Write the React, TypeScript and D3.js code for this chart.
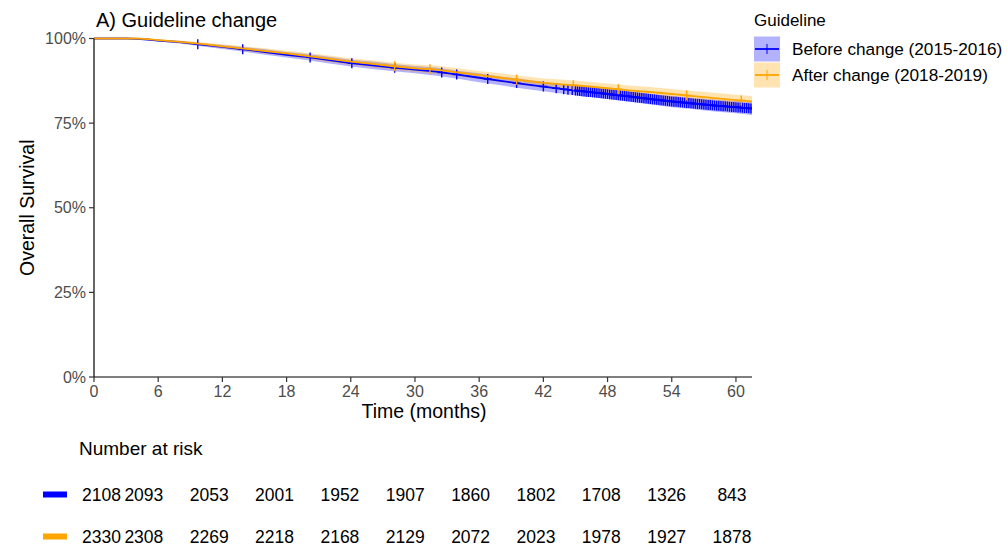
import React from "react";
import * as d3 from "d3";

// KM estimates (months -> survival)
const times = [0, 3, 4, 5, 6, 8, 10, 12, 14, 16, 18, 20, 22, 24, 26, 28, 30, 32, 34, 36, 38, 40, 42, 44, 46, 48, 50, 52, 54, 56, 58, 60, 61.5];

const beforeSurv = [1, 1, 0.999, 0.997, 0.994, 0.989, 0.982, 0.975, 0.968, 0.96, 0.952, 0.945, 0.936, 0.927, 0.921, 0.914, 0.908, 0.902, 0.893, 0.884, 0.875, 0.866, 0.858, 0.85, 0.843, 0.836, 0.829, 0.821, 0.814, 0.808, 0.802, 0.797, 0.793];
const beforeLower = [1, 1, 0.998, 0.995, 0.991, 0.985, 0.977, 0.969, 0.961, 0.952, 0.944, 0.936, 0.926, 0.917, 0.91, 0.903, 0.897, 0.89, 0.881, 0.871, 0.862, 0.852, 0.844, 0.836, 0.828, 0.821, 0.813, 0.805, 0.797, 0.791, 0.784, 0.779, 0.774];
const beforeUpper = [1, 1, 1, 0.999, 0.997, 0.993, 0.987, 0.981, 0.975, 0.968, 0.96, 0.954, 0.946, 0.937, 0.932, 0.925, 0.919, 0.914, 0.905, 0.897, 0.888, 0.88, 0.872, 0.864, 0.858, 0.851, 0.845, 0.837, 0.831, 0.825, 0.82, 0.815, 0.812];

const afterSurv = [1, 1, 1, 0.998, 0.995, 0.99, 0.984, 0.977, 0.97, 0.963, 0.956, 0.948, 0.94, 0.932, 0.925, 0.918, 0.912, 0.908, 0.9, 0.892, 0.884, 0.876, 0.869, 0.864, 0.859, 0.853, 0.847, 0.842, 0.836, 0.83, 0.824, 0.818, 0.814];
const afterLower = [1, 1, 0.999, 0.996, 0.992, 0.986, 0.979, 0.971, 0.963, 0.955, 0.948, 0.939, 0.93, 0.922, 0.914, 0.907, 0.901, 0.896, 0.888, 0.88, 0.871, 0.863, 0.856, 0.85, 0.845, 0.839, 0.833, 0.827, 0.821, 0.815, 0.808, 0.802, 0.798];
const afterUpper = [1, 1, 1, 1, 0.998, 0.994, 0.989, 0.983, 0.977, 0.971, 0.964, 0.957, 0.95, 0.942, 0.936, 0.929, 0.923, 0.92, 0.912, 0.904, 0.897, 0.889, 0.882, 0.878, 0.873, 0.867, 0.861, 0.857, 0.851, 0.845, 0.84, 0.834, 0.83];

// censoring times
const beforeCensor = [9.7, 13.9, 20.2, 24.1, 28.1, 32.5, 33.9, 36.8, 39.5, 42.0, 43.2, 43.9, 44.3, 44.7,
  45.0, 45.2, 45.4, 45.6, 45.8, 46.0, 46.2, 46.4, 46.6, 46.8, 47.0, 47.2, 47.4, 47.6, 47.8, 48.0, 48.2, 48.4, 48.6, 48.8,
  49.0, 49.2, 49.4, 49.6, 49.8, 50.0, 50.2, 50.4, 50.6, 50.8, 51.0, 51.2, 51.4, 51.6, 51.8, 52.0, 52.2, 52.4, 52.6, 52.8,
  53.0, 53.2, 53.4, 53.6, 53.8, 54.0, 54.2, 54.4, 54.6, 54.8, 55.0, 55.2, 55.4, 55.6, 55.8, 56.0, 56.2, 56.4, 56.6, 56.8,
  57.0, 57.2, 57.4, 57.6, 57.8, 58.0, 58.2, 58.4, 58.6, 58.8, 59.0, 59.2, 59.4, 59.6, 59.8, 60.0, 60.2, 60.4, 60.6, 60.8,
  61.0, 61.2, 61.4];
const afterCensor = [28.1, 31.4, 39.5, 44.8, 49.0, 55.4, 60.5];

const xTicks = [0, 6, 12, 18, 24, 30, 36, 42, 48, 54, 60];
const yTicks = [0, 0.25, 0.5, 0.75, 1];
const beforeRisk = [2108, 2093, 2053, 2001, 1952, 1907, 1860, 1802, 1708, 1326, 843];
const afterRisk = [2330, 2308, 2269, 2218, 2168, 2129, 2072, 2023, 1978, 1927, 1878];

const groups = [
  { name: "Before change (2015-2016)", color: "#0000FF", surv: beforeSurv, lo: beforeLower, hi: beforeUpper, censor: beforeCensor, risk: beforeRisk },
  { name: "After change (2018-2019)", color: "#FFA500", surv: afterSurv, lo: afterLower, hi: afterUpper, censor: afterCensor, risk: afterRisk },
];

const FONT = "Liberation Sans, Arial, sans-serif";

export default function App() {
  const left = 94, right = 752, top = 38.5, bottom = 377;
  const x = d3.scaleLinear().domain([0, 61.5]).range([left, right]);
  const y = d3.scaleLinear().domain([0, 1]).range([bottom, top]);
  const riskX = d3.scaleLinear().domain([0, 60]).range([78.5, 732]);

  return (
    <svg width={1007} height={546} style={{ position: "absolute", left: 0, top: 0, background: "#fff" }} fontFamily={FONT}>
      <defs>
        <clipPath id="plot">
          <rect x={left} y={0} width={right - left} height={bottom} />
        </clipPath>
      </defs>

      <text x={96} y={27} fontSize={20} fill="#000">A) Guideline change</text>

      <g clipPath="url(#plot)">
        {groups.map((g) => {
          const area = d3.area<number>()
            .x((t) => x(t))
            .y0((_, i) => y(g.lo[i]))
            .y1((_, i) => y(g.hi[i]));
          return <path key={g.name + "b"} d={area(times) || ""} fill={g.color} fillOpacity={0.3} />;
        })}
        {groups.map((g) => {
          const line = d3.line<number>().x((t) => x(t)).y((_, i) => y(g.surv[i]));
          const at = d3.scaleLinear().domain(times).range(g.surv);
          return (
            <g key={g.name + "l"}>
              <path d={line(times) || ""} fill="none" stroke={g.color} strokeWidth={1.8} />
              {g.censor.map((t, i) => {
                const cx = x(t), cy = y(at(t));
                return (
                  <path key={i} d={`M${cx},${cy - 5}V${cy + 5}M${cx - 4},${cy}H${cx + 4}`}
                    stroke={g.color} strokeWidth={1.4} fill="none" />
                );
              })}
            </g>
          );
        })}
      </g>

      {/* axes */}
      <line x1={left} x2={left} y1={top} y2={bottom} stroke="#000" strokeWidth={1.2} />
      <line x1={left} x2={right} y1={bottom} y2={bottom} stroke="#000" strokeWidth={1.2} />
      {yTicks.map((v) => (
        <g key={v}>
          <line x1={left - 5} x2={left} y1={y(v)} y2={y(v)} stroke="#333" strokeWidth={1.2} />
          <text x={left - 8} y={y(v)} dy="0.35em" textAnchor="end" fontSize={16} fill="#4d4d4d">{d3.format(".0%")(v)}</text>
        </g>
      ))}
      {xTicks.map((v) => (
        <g key={v}>
          <line x1={x(v)} x2={x(v)} y1={bottom} y2={bottom + 5} stroke="#333" strokeWidth={1.2} />
          <text x={x(v)} y={397} textAnchor="middle" fontSize={16} fill="#4d4d4d">{v}</text>
        </g>
      ))}
      <text x={424} y={418} textAnchor="middle" fontSize={19.5} fill="#000">Time (months)</text>
      <text transform={`translate(34,${(top + bottom) / 2}) rotate(-90)`} textAnchor="middle" fontSize={19.5} fill="#000">Overall Survival</text>

      {/* legend */}
      <text x={754} y={26} fontSize={17} fill="#000">Guideline</text>
      {groups.map((g, i) => {
        const ky = 36.5 + i * 26;
        return (
          <g key={g.name}>
            <rect x={754} y={ky} width={26} height={25} fill={g.color} fillOpacity={0.3} />
            <line x1={755} x2={779} y1={ky + 12.5} y2={ky + 12.5} stroke={g.color} strokeWidth={1.8} />
            <line x1={767} x2={767} y1={ky + 7.5} y2={ky + 17.5} stroke={g.color} strokeWidth={1} />
            <text x={792} y={ky + 12.5} dy="0.35em" fontSize={17.2} fill="#000">{g.name}</text>
          </g>
        );
      })}

      {/* risk table */}
      <text x={79} y={455} fontSize={19} fill="#000">Number at risk</text>
      {groups.map((g, i) => {
        const ry = 494.5 + i * 42;
        return (
          <g key={g.name + "r"}>
            <rect x={43} y={ry - 3} width={24} height={6} fill={g.color} />
            {g.risk.map((n, j) => (
              <text key={j} x={j === 0 ? riskX(0) + 3.5 : riskX(xTicks[j])} y={ry} dy="0.35em"
                textAnchor={j === 0 ? "start" : "middle"} fontSize={17.5} fill="#000">{n}</text>
            ))}
          </g>
        );
      })}
    </svg>
  );
}
